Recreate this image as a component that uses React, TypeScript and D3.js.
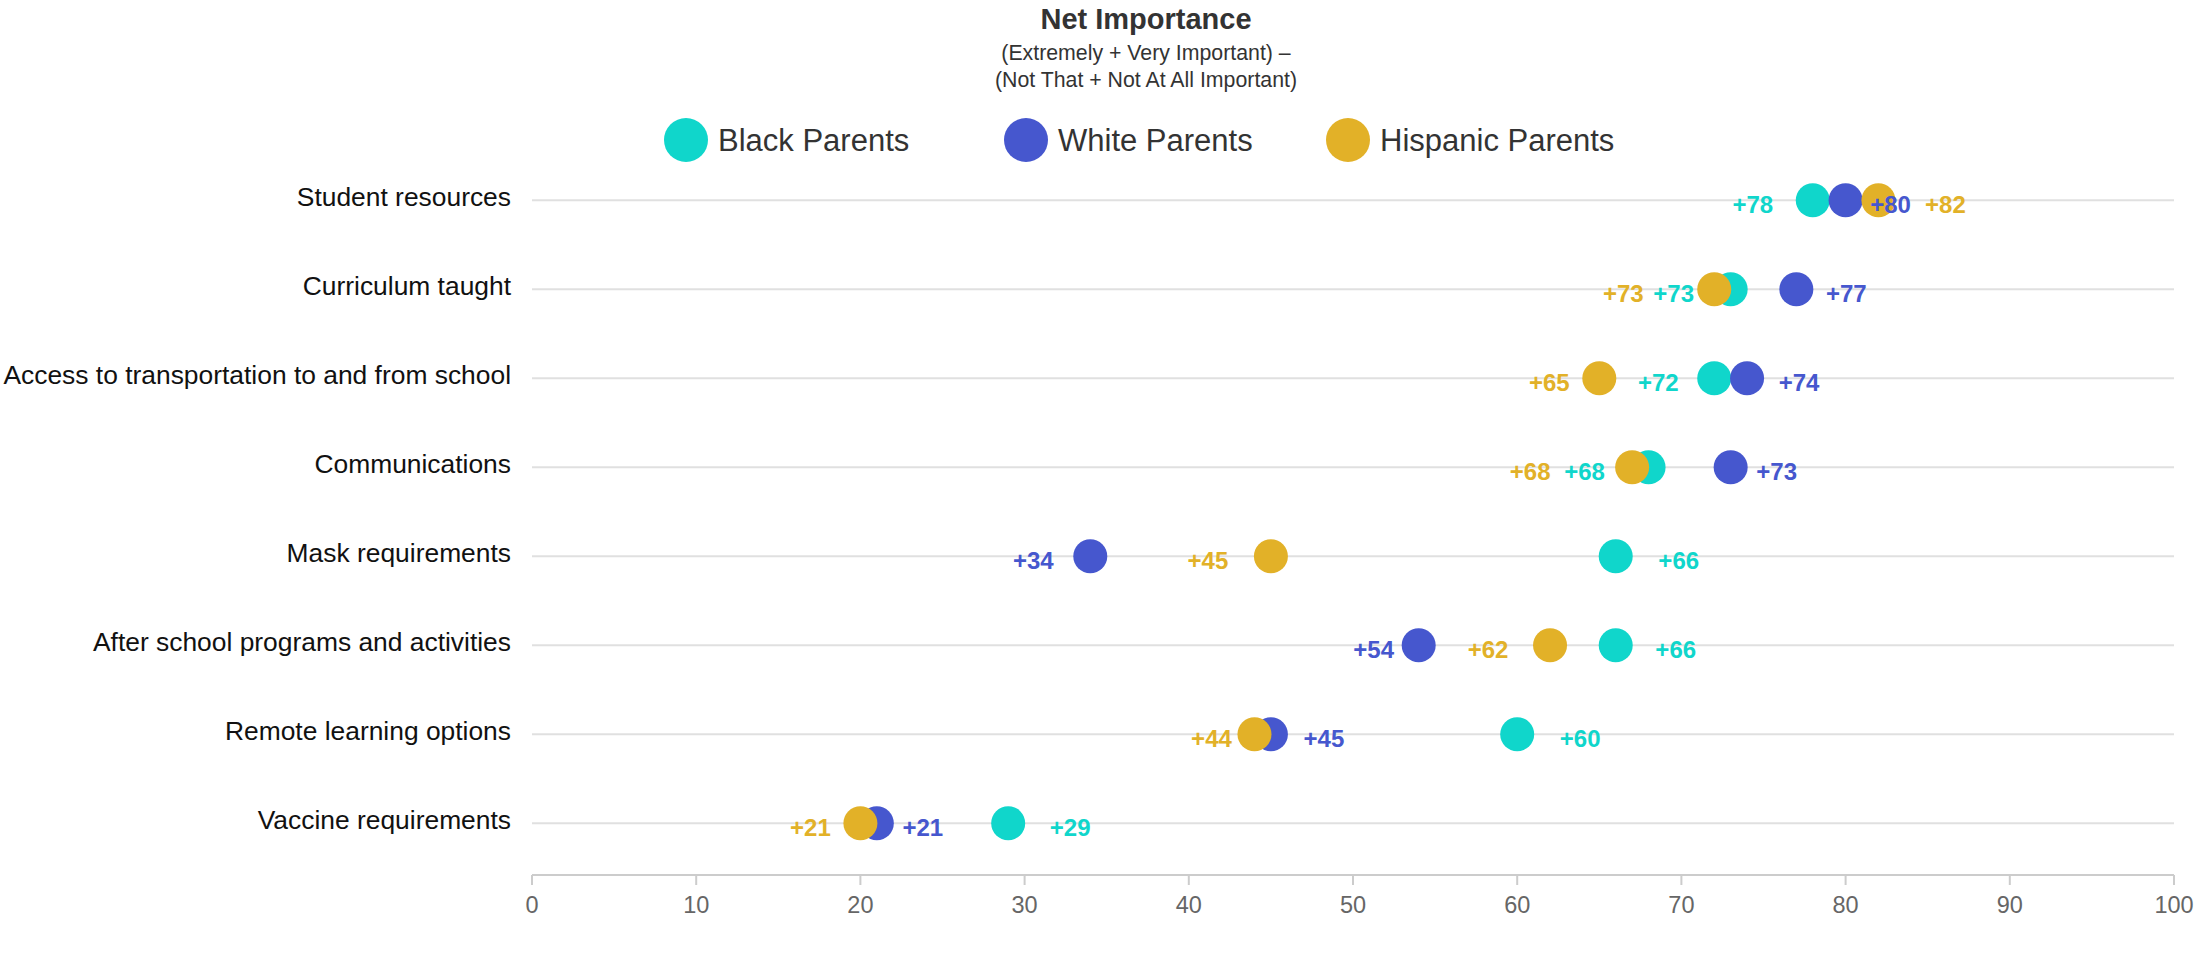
import React from "react";
import * as d3 from "d3";

const categories = [
  "Student resources",
  "Curriculum taught",
  "Access to transportation to and from school",
  "Communications",
  "Mask requirements",
  "After school programs and activities",
  "Remote learning options",
  "Vaccine requirements",
];

const seriesNames = ["Black Parents", "White Parents", "Hispanic Parents"];
const blackValues = [78, 73, 72, 68, 66, 66, 60, 29];
const whiteValues = [80, 77, 74, 73, 34, 54, 45, 21];
const hispanicValues = [82, 72, 65, 67, 45, 62, 44, 20];

const blackLabels = [78, 73, 72, 68, 66, 66, 60, 29];
const whiteLabels = [80, 77, 74, 73, 34, 54, 45, 21];
const hispanicLabels = [82, 73, 65, 68, 45, 62, 44, 21];

const xTicks = [0, 10, 20, 30, 40, 50, 60, 70, 80, 90, 100];

// layout: horizontal offset (px) of each data label's centre from its dot
const blackLabelDx = [-60, -57, -56, -64, 63, 60, 63, 62];
const whiteLabelDx = [45, 50, 52, 46, -57, -45, 53, 46];
const hispanicLabelDx = [67, -91, -50, -102, -63, -62, -43, -50];

const colors = ["#10d6cb", "#4657ce", "#e2b128"];

const W = 2195;
const H = 954;
const FONT = "'Liberation Sans', Arial, Helvetica, sans-serif";

export default function App() {
  const x = d3.scaleLinear().domain([0, 100]).range([532, 2174]);
  const y = d3
    .scaleBand<string>()
    .domain(categories)
    .range([155.7, 867.7]);
  const yc = (c: string) => (y(c) as number) + y.bandwidth() / 2;
  const axisY = 875;

  const series = [
    { name: seriesNames[0], values: blackValues, labels: blackLabels, dx: blackLabelDx, color: colors[0] },
    { name: seriesNames[1], values: whiteValues, labels: whiteLabels, dx: whiteLabelDx, color: colors[1] },
    { name: seriesNames[2], values: hispanicValues, labels: hispanicLabels, dx: hispanicLabelDx, color: colors[2] },
  ];

  const legendX = [686, 1026, 1348];

  return (
    <svg
      width={W}
      height={H}
      style={{ position: "absolute", left: 0, top: 0, display: "block", background: "#fff" }}
      fontFamily={FONT}
    >
      <rect x={0} y={0} width={W} height={H} fill="#fff" />
      {/* Title */}
      <text x={1146} y={29} textAnchor="middle" fontSize={29} fontWeight="bold" fill="#333">
        Net Importance
      </text>
      <text x={1146} y={60} textAnchor="middle" fontSize={21.3} fill="#333">
        (Extremely + Very Important) –
      </text>
      <text x={1146} y={87} textAnchor="middle" fontSize={21.3} fill="#333">
        (Not That + Not At All Important)
      </text>

      {/* Legend */}
      {series.map((s, i) => (
        <g key={s.name}>
          <circle cx={legendX[i]} cy={140} r={22} fill={s.color} />
          <text x={legendX[i] + 32} y={140} dominantBaseline="central" fontSize={31} fill="#333">
            {s.name}
          </text>
        </g>
      ))}

      {/* Grid lines */}
      {categories.map((c) => (
        <line key={c} x1={x(0)} x2={x(100)} y1={yc(c)} y2={yc(c)} stroke="#e0e0e0" strokeWidth={2} />
      ))}

      {/* Category labels */}
      {categories.map((c) => (
        <text
          key={c}
          x={511}
          y={yc(c) - 3}
          textAnchor="end"
          dominantBaseline="central"
          fontSize={26.4}
          fill="#111"
        >
          {c}
        </text>
      ))}

      {/* X axis */}
      <line x1={x(0)} x2={x(100)} y1={axisY} y2={axisY} stroke="#cccccc" strokeWidth={2} />
      {xTicks.map((t) => (
        <g key={t}>
          <line x1={x(t)} x2={x(t)} y1={axisY} y2={axisY + 10} stroke="#cccccc" strokeWidth={2} />
          <text x={x(t)} y={905} textAnchor="middle" dominantBaseline="central" fontSize={23.5} fill="#666">
            {t}
          </text>
        </g>
      ))}

      {/* Dots */}
      {series.map((s) => (
        <g key={s.name}>
          {categories.map((c, j) => (
            <circle key={c} cx={x(s.values[j])} cy={yc(c)} r={17} fill={s.color} />
          ))}
        </g>
      ))}

      {/* Data labels */}
      {series.map((s) => (
        <g key={s.name + "-labels"}>
          {categories.map((c, j) => (
            <text
              key={c}
              x={x(s.values[j]) + s.dx[j]}
              y={yc(c) + 4}
              textAnchor="middle"
              dominantBaseline="central"
              fontSize={24}
              fontWeight="bold"
              fill={s.color}
            >
              {"+" + s.labels[j]}
            </text>
          ))}
        </g>
      ))}
    </svg>
  );
}
